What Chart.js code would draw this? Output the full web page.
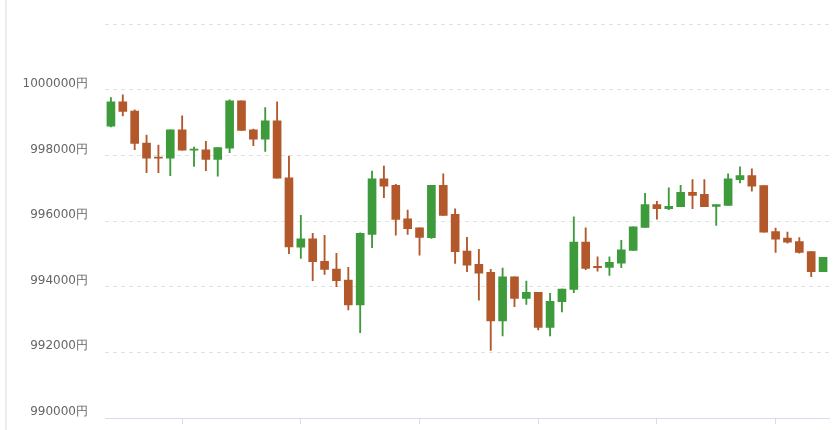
<!DOCTYPE html>
<html lang="ja">
<head>
<meta charset="utf-8">
<title>ローソク足チャート</title>
<script src="https://cdn.jsdelivr.net/npm/chart.js"></script>
<style>
    html, body { margin: 0; padding: 0; background: #fff; overflow: hidden; }
    #wrap { position: relative; width: 840px; height: 430px; overflow: hidden; }
    #sideLine { position: absolute; left: 5px; top: 0; width: 2px; height: 430px; background: #ececec; }
    #chartBox { position: absolute; left: 0; top: 0; width: 840px; height: 450px; }
</style>
</head>
<body>
<div id="wrap">
    <div id="sideLine"></div>
    <div id="chartBox">
        <canvas id="candleChart"></canvas>
    </div>
</div>
<script>

// 1分足 10:00 - 11:00
var labels = [
    '10:00','10:01','10:02','10:03','10:04','10:05','10:06','10:07','10:08','10:09',
    '10:10','10:11','10:12','10:13','10:14','10:15','10:16','10:17','10:18','10:19',
    '10:20','10:21','10:22','10:23','10:24','10:25','10:26','10:27','10:28','10:29',
    '10:30','10:31','10:32','10:33','10:34','10:35','10:36','10:37','10:38','10:39',
    '10:40','10:41','10:42','10:43','10:44','10:45','10:46','10:47','10:48','10:49',
    '10:50','10:51','10:52','10:53','10:54','10:55','10:56','10:57','10:58','10:59',
    '11:00'
];

var openPrices = [
    998894, 999635, 999350, 998376, 997950, 997919, 998782, 998163, 998173, 997879,
    998224, 999665, 998782, 998498, 999056, 997320, 995209, 995463, 994772, 994539,
    994204, 993443, 995594, 997290, 997087, 996071, 995797, 995493, 997087, 996203,
    995087, 994680, 994437, 992955, 994305, 993645, 993828, 992762, 993544, 993919,
    995361, 994620, 994589, 994721, 995107, 995807, 996501, 996378, 996439, 996878,
    996817, 996450, 996480, 997266, 997388, 997082, 995684, 995481, 995379, 995073,
    994461
];

var highPrices = [
    999767, 999848, 999391, 998620, 998315, 998782, 999208, 998254, 998427, 998244,
    999695, 999665, 998802, 999462, 999635, 997985, 996178, 995625, 995564, 995016,
    994590, 995645, 997523, 997675, 997117, 996335, 995797, 997087, 997442, 996376,
    995503, 995137, 994528, 994569, 994305, 994173, 993828, 993797, 993929, 996132,
    995797, 994914, 994914, 995411, 995827, 996850, 996603, 997011, 997092, 997266,
    997266, 996501, 997439, 997653, 997592, 997082, 995787, 995664, 995501, 995073,
    994899
];

var lowPrices = [
    998873, 999208, 998173, 997473, 997473, 997381, 998163, 997666, 997534, 997371,
    998082, 998762, 998295, 998122, 997310, 995010, 994864, 994184, 994376, 994001,
    993290, 992600, 995188, 996711, 995574, 995594, 994965, 995473, 996173, 994711,
    994460, 993594, 992062, 992498, 993391, 993463, 992681, 992498, 993229, 993818,
    994518, 994478, 994346, 994579, 995107, 995807, 996062, 996348, 996439, 996378,
    996439, 995868, 996480, 997164, 996909, 995664, 995042, 995327, 995022, 994307,
    994461
];

var closePrices = [
    999635, 999340, 998366, 997919, 997919, 998782, 998163, 998193, 997879, 998244,
    999665, 998762, 998498, 999056, 997310, 995215, 995463, 994762, 994529, 994184,
    993443, 995625, 997290, 997066, 996051, 995767, 995503, 997087, 996173, 995067,
    994660, 994417, 992955, 994305, 993645, 993828, 992762, 993554, 993929, 995361,
    994559, 994579, 994741, 995127, 995827, 996505, 996378, 996450, 996878, 996786,
    996439, 996501, 997286, 997388, 997062, 995664, 995450, 995358, 995042, 994461,
    994899
];

var yTicks = [990000, 992000, 994000, 996000, 998000, 1000000, 1002000];

var upColor = '#3e9b3c';
var downColor = '#b2582a';

function candleColor(ctx) {
    var i = ctx.dataIndex;
    return closePrices[i] >= openPrices[i] ? upColor : downColor;
}

var bodyData = openPrices.map(function (o, i) { return [o, closePrices[i]]; });
var wickData = lowPrices.map(function (l, i) { return [l, highPrices[i]]; });

var ctx = document.getElementById('candleChart').getContext('2d');
var myCandleChart = new Chart(ctx, {
    type: 'bar',
    data: {
        labels: labels,
        datasets: [{
            label: '実体',
            data: bodyData,
            backgroundColor: candleColor,
            borderWidth: 0,
            barThickness: 8,
            minBarLength: 1,
            grouped: false,
            order: 1
        }, {
            label: 'ヒゲ',
            data: wickData,
            backgroundColor: candleColor,
            borderWidth: 0,
            barThickness: 1.2,
            grouped: false,
            order: 2
        }]
    },
    options: {
        responsive: true,
        maintainAspectRatio: false,
        animation: false,
        layout: {
            padding: { top: 19, right: 11, bottom: 0, left: 0 }
        },
        plugins: {
            legend: { display: false },
            tooltip: { enabled: false }
        },
        scales: {
            x: {
                offset: true,
                grid: {
                    offset: false,
                    drawOnChartArea: false,
                    drawTicks: true,
                    tickLength: 6,
                    color: function (c) {
                        return c.index % 10 === 6 ? '#d5dcea' : 'rgba(0,0,0,0)';
                    }
                },
                border: { display: true, color: '#d5dcea', width: 1 },
                ticks: {
                    autoSkip: false,
                    maxRotation: 0,
                    padding: 7,
                    color: '#aaa',
                    font: { family: 'DejaVu Sans', size: 12 },
                    callback: function (value, index) {
                        return index % 10 === 6 ? labels[index] : '';
                    }
                },
                afterFit: function (scale) {
                    scale.height = 32;
                }
            },
            y: {
                min: 990000,
                max: 1002000,
                afterBuildTicks: function (scale) {
                    scale.ticks = yTicks.map(function (v) { return { value: v }; });
                },
                grid: {
                    drawTicks: false,
                    color: '#e3e3e3',
                    lineWidth: 1
                },
                border: { display: false, dash: [4, 4] },
                ticks: {
                    padding: 17,
                    labelOffset: -6,
                    color: '#666',
                    font: { family: 'DejaVu Sans', size: 12 },
                    callback: function (value) {
                        return value === 1002000 ? '' : value + '円';
                    }
                },
                afterFit: function (scale) {
                    scale.width = 105;
                }
            }
        }
    }
});
</script>
</body>
</html>
